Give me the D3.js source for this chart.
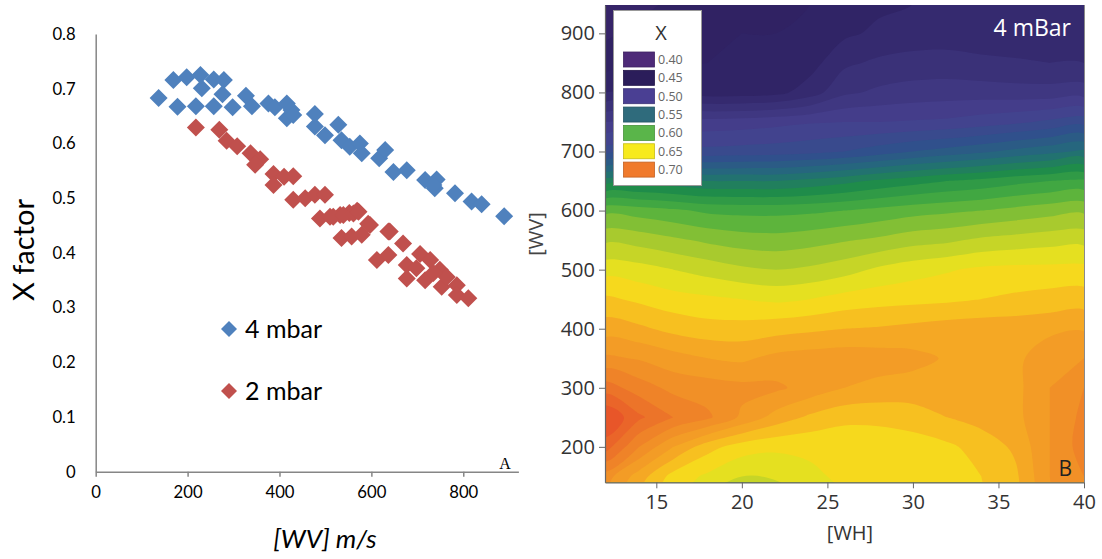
<!DOCTYPE html>
<html><head><meta charset="utf-8">
<script src="https://cdn.jsdelivr.net/npm/d3@7"></script>
<style>body{margin:0;background:#fff;} svg{display:block;}</style>
</head><body><svg id="chart" width="1102" height="559"></svg>
<script>
// ---------- Panel A data ----------
const wv4 = [137,169,198,228,231,257,279,276,178,218,257,298,327,340,376,390,416,426,416,477,477,499,528,535,553,575,579,617,630,648,677,717,742,738,782,818,840,889,430,735];
const x4  = [0.683,0.716,0.721,0.725,0.701,0.717,0.716,0.690,0.667,0.668,0.668,0.666,0.687,0.668,0.673,0.666,0.673,0.661,0.646,0.654,0.631,0.615,0.634,0.606,0.594,0.600,0.582,0.573,0.588,0.548,0.551,0.533,0.534,0.518,0.509,0.494,0.489,0.467,0.652,0.524];
const wv2 = [218,269,285,308,337,358,347,387,410,430,387,430,456,477,499,488,510,532,552,569,517,539,561,572,535,557,579,597,637,612,637,669,706,728,677,677,717,749,753,786,786,811,764,698,735,593,640];
const x2  = [0.629,0.625,0.605,0.595,0.582,0.571,0.561,0.544,0.539,0.540,0.524,0.497,0.500,0.506,0.506,0.463,0.466,0.469,0.473,0.477,0.466,0.469,0.472,0.475,0.427,0.430,0.433,0.451,0.439,0.387,0.396,0.417,0.398,0.387,0.353,0.378,0.350,0.369,0.338,0.341,0.323,0.317,0.356,0.372,0.363,0.453,0.439];
const seriesNames = ["4 mbar", "2 mbar"];
const xTicksA = [0, 200, 400, 600, 800];
const yTicksA = [0, 0.1, 0.2, 0.3, 0.4, 0.5, 0.6, 0.7, 0.8];

// ---------- Panel B data ----------
const whGrid = [12,14,16,18,20,22,24,26,28,30,32,34,36,38,40];
const wvGrid = [100,150,200,250,300,350,400,450,500,550,600,650,700,750,800,850,900,950];
const gridX = [
 [0.685,0.665,0.652,0.635,0.625,0.628,0.640,0.648,0.650,0.651,0.653,0.658,0.665,0.688,0.697],
 [0.695,0.675,0.656,0.648,0.640,0.642,0.648,0.652,0.652,0.653,0.655,0.660,0.668,0.690,0.700],
 [0.725,0.700,0.680,0.664,0.655,0.652,0.652,0.652,0.653,0.655,0.658,0.664,0.672,0.690,0.705],
 [0.740,0.722,0.710,0.702,0.688,0.676,0.668,0.663,0.663,0.665,0.670,0.674,0.677,0.690,0.703],
 [0.715,0.705,0.697,0.695,0.693,0.692,0.686,0.680,0.677,0.676,0.676,0.676,0.677,0.690,0.700],
 [0.692,0.689,0.684,0.680,0.678,0.683,0.685,0.686,0.685,0.683,0.679,0.677,0.677,0.688,0.690],
 [0.675,0.672,0.667,0.664,0.664,0.666,0.668,0.670,0.671,0.673,0.675,0.676,0.676,0.677,0.679],
 [0.662,0.658,0.654,0.652,0.650,0.648,0.650,0.654,0.656,0.657,0.658,0.660,0.662,0.664,0.665],
 [0.646,0.644,0.640,0.636,0.632,0.630,0.632,0.636,0.642,0.646,0.649,0.652,0.653,0.653,0.653],
 [0.628,0.626,0.622,0.618,0.615,0.614,0.616,0.619,0.622,0.626,0.628,0.632,0.634,0.636,0.637],
 [0.607,0.605,0.602,0.598,0.597,0.597,0.598,0.600,0.603,0.606,0.608,0.610,0.613,0.616,0.618],
 [0.565,0.565,0.563,0.560,0.560,0.560,0.563,0.567,0.572,0.576,0.580,0.583,0.587,0.590,0.592],
 [0.515,0.515,0.513,0.513,0.514,0.515,0.517,0.520,0.525,0.530,0.534,0.538,0.543,0.547,0.552],
 [0.490,0.492,0.493,0.494,0.495,0.497,0.499,0.500,0.500,0.501,0.502,0.505,0.508,0.512,0.516],
 [0.460,0.462,0.460,0.455,0.455,0.457,0.465,0.478,0.482,0.484,0.485,0.485,0.484,0.484,0.485],
 [0.445,0.448,0.449,0.450,0.450,0.451,0.456,0.468,0.472,0.474,0.474,0.472,0.471,0.470,0.470],
 [0.438,0.443,0.446,0.448,0.450,0.450,0.452,0.458,0.462,0.464,0.465,0.465,0.465,0.465,0.466],
 [0.430,0.437,0.442,0.446,0.448,0.449,0.450,0.454,0.458,0.460,0.462,0.462,0.463,0.463,0.464]
];
const legendLevels = ["0.40","0.45","0.50","0.55","0.60","0.65","0.70"];
const legendColors = ["#4e2a78","#2b1d5a","#4a3f93","#2f6b7c","#5ab54a","#f7ea1d","#f07a2c"];
const xTicksB = [15, 20, 25, 30, 35, 40];
const yTicksB = [200, 300, 400, 500, 600, 700, 800, 900];

// ---------- drawing ----------
const svg = d3.select("#chart");

// ===== Panel A =====
const xA = d3.scaleLinear().domain([0, 920]).range([95.7, 518.4]);
const yA = d3.scaleLinear().domain([0, 0.8]).range([471.7, 34]);
const fontA = "Lato, 'Open Sans', sans-serif";

const gxA = svg.append("g").attr("transform", `translate(0,${yA(0)})`)
  .call(d3.axisBottom(xA).tickValues(xTicksA).tickSize(5).tickSizeOuter(0).tickPadding(9).tickFormat(d3.format("d")));
gxA.select(".domain").attr("stroke", "#868686").attr("stroke-width", 1.5);
gxA.selectAll(".tick line").attr("stroke", "#868686").attr("stroke-width", 1.5);
gxA.selectAll("text").attr("font-family", fontA).attr("font-size", 16.7).attr("fill", "#000");

const gyA = svg.append("g").attr("transform", `translate(${xA(0)},0)`)
  .call(d3.axisLeft(yA).tickValues(yTicksA).tickSize(0).tickSizeOuter(0).tickPadding(20)
    .tickFormat(d => d === 0 ? "0" : d.toFixed(1)));
gyA.select(".domain").attr("stroke", "#868686").attr("stroke-width", 1.5);
gyA.selectAll("text").attr("font-family", fontA).attr("font-size", 16.7).attr("fill", "#000");

const diamond = r => `M0,${-r}L${r},0L0,${r}L${-r},0Z`;
const colA = ["#4F81BD", "#C0504D"];
[[wv4, x4], [wv2, x2]].forEach(([xs, ys], k) => {
  svg.append("g").selectAll("path").data(xs.map((v, i) => [v, ys[i]])).join("path")
    .attr("d", diamond(9))
    .attr("transform", d => `translate(${xA(d[0])},${yA(d[1])})`)
    .attr("fill", colA[k]);
});

// legend A
seriesNames.forEach((name, k) => {
  const yy = 329 + k * 62;
  svg.append("path").attr("d", diamond(8)).attr("transform", `translate(229,${yy})`).attr("fill", colA[k]);
  svg.append("text").attr("x", 245).attr("y", yy).attr("dy", "0.35em")
    .attr("font-family", fontA).attr("font-size", 25).attr("fill", "#000").text(name);
});

svg.append("text").attr("transform", "translate(34,250) rotate(-90)").attr("text-anchor", "middle")
  .attr("font-family", fontA).attr("font-size", 29).attr("fill", "#000").text("X factor");
svg.append("text").attr("x", 325).attr("y", 548).attr("text-anchor", "middle")
  .attr("font-family", fontA).attr("font-style", "italic").attr("font-size", 26).attr("fill", "#000").text("[WV] m/s");
svg.append("text").attr("x", 505).attr("y", 469).attr("text-anchor", "middle")
  .attr("font-family", "'Liberation Serif', serif").attr("font-size", 16).attr("fill", "#000").text("A");

// ===== Panel B =====
const xB = d3.scaleLinear().domain([12, 40]).range([605, 1084]);
const yB = d3.scaleLinear().domain([140, 948]).range([482.3, 5]);
const fontB = "'Open Sans', sans-serif";

const colorStops = [0.40, 0.45, 0.50, 0.525, 0.55, 0.575, 0.60, 0.625, 0.65, 0.66, 0.675, 0.70, 0.75];
const colorRange = ["#4b2a78","#2d2161","#46408f","#30508c","#236b7a","#1f8c4a","#4aae40","#a8ca2e","#f4e51c","#f8cc1e","#f5a824","#f08a28","#e4402a"];
const color = d3.scaleLinear().domain(colorStops).range(colorRange).clamp(true);

svg.append("defs").append("clipPath").attr("id", "clipB").append("rect")
  .attr("x", xB(12)).attr("y", yB(948)).attr("width", xB(40) - xB(12)).attr("height", yB(140) - yB(948));
const gB = svg.append("g").attr("clip-path", "url(#clipB)");

const n = whGrid.length, m = wvGrid.length;
const values = [];
gridX.forEach(row => row.forEach(v => values.push(v)));
const step = 0.01;
const thresholds = d3.range(0.40, 0.76, step);
const contours = d3.contours().size([n, m]).thresholds(thresholds)(values);
const cw = whGrid[1] - whGrid[0], ch = wvGrid[1] - wvGrid[0];
const toPx = p => [xB(whGrid[0] + (p[0] - 0.5) * cw), yB(wvGrid[0] + (p[1] - 0.5) * ch)];
const ringLine = d3.line().curve(d3.curveCatmullRomClosed.alpha(0.5));

gB.append("rect").attr("x", 590).attr("y", 0).attr("width", 520).attr("height", 500)
  .attr("fill", color(d3.min(values)));
contours.forEach(c => {
  if (!c.coordinates.length) return;
  const d = c.coordinates.map(poly => poly.map(ring => ringLine(ring.slice(0, -1).map(toPx))).join("")).join("");
  gB.append("path").attr("d", d).attr("fill", color(c.value + step / 2)).attr("fill-rule", "evenodd");
});

// frame
svg.append("line").attr("x1", xB(40) + 0.5).attr("x2", xB(40) + 0.5).attr("y1", yB(948)).attr("y2", yB(140))
  .attr("stroke", "#8a8a8a").attr("stroke-width", 1);

const gxB = svg.append("g").attr("transform", `translate(0,${yB(140)})`)
  .call(d3.axisBottom(xB).tickValues(xTicksB).tickSize(6).tickSizeOuter(0).tickPadding(7));
gxB.select(".domain").attr("stroke", "#666").attr("stroke-width", 1.2);
gxB.selectAll(".tick line").attr("stroke", "#666");
gxB.selectAll("text").attr("font-family", fontB).attr("font-size", 20).attr("fill", "#333");

const gyB = svg.append("g").attr("transform", `translate(${xB(12)},0)`)
  .call(d3.axisLeft(yB).tickValues(yTicksB).tickSize(6).tickSizeOuter(0).tickPadding(4));
gyB.select(".domain").attr("stroke", "#666").attr("stroke-width", 1.2);
gyB.selectAll(".tick line").attr("stroke", "#666");
gyB.selectAll("text").attr("font-family", fontB).attr("font-size", 20).attr("fill", "#333");

svg.append("text").attr("x", 850).attr("y", 540).attr("text-anchor", "middle")
  .attr("font-family", fontB).attr("font-size", 20).attr("fill", "#333").text("[WH]");
svg.append("text").attr("transform", "translate(543,234) rotate(-90)").attr("text-anchor", "middle")
  .attr("font-family", fontB).attr("font-size", 20).attr("fill", "#444").text("[WV]");
svg.append("text").attr("x", 1071).attr("y", 36).attr("text-anchor", "end")
  .attr("font-family", fontB).attr("font-size", 23).attr("fill", "#fff").text("4 mBar");
svg.append("text").attr("x", 1072).attr("y", 476).attr("text-anchor", "end")
  .attr("font-family", fontB).attr("font-size", 21).attr("fill", "#222").text("B");

// legend B
const lg = svg.append("g");
lg.append("rect").attr("x", 613.5).attr("y", 10.5).attr("width", 88).attr("height", 175)
  .attr("fill", "#fff").attr("stroke", "#999").attr("stroke-width", 1);
lg.append("text").attr("x", 661).attr("y", 40).attr("text-anchor", "middle")
  .attr("font-family", fontB).attr("font-size", 20).attr("fill", "#333").text("X");
legendLevels.forEach((lab, i) => {
  const yy = 52 + i * 18.35;
  lg.append("rect").attr("x", 623.5).attr("y", yy).attr("width", 31).attr("height", 15)
    .attr("fill", legendColors[i]).attr("stroke", d3.color(legendColors[i]).darker(0.6)).attr("stroke-width", 0.8);
  lg.append("text").attr("x", 658).attr("y", yy + 7.5).attr("dy", "0.35em")
    .attr("font-family", fontB).attr("font-size", 12.5).attr("fill", "#666").text(lab);
});
</script>
</body></html>
